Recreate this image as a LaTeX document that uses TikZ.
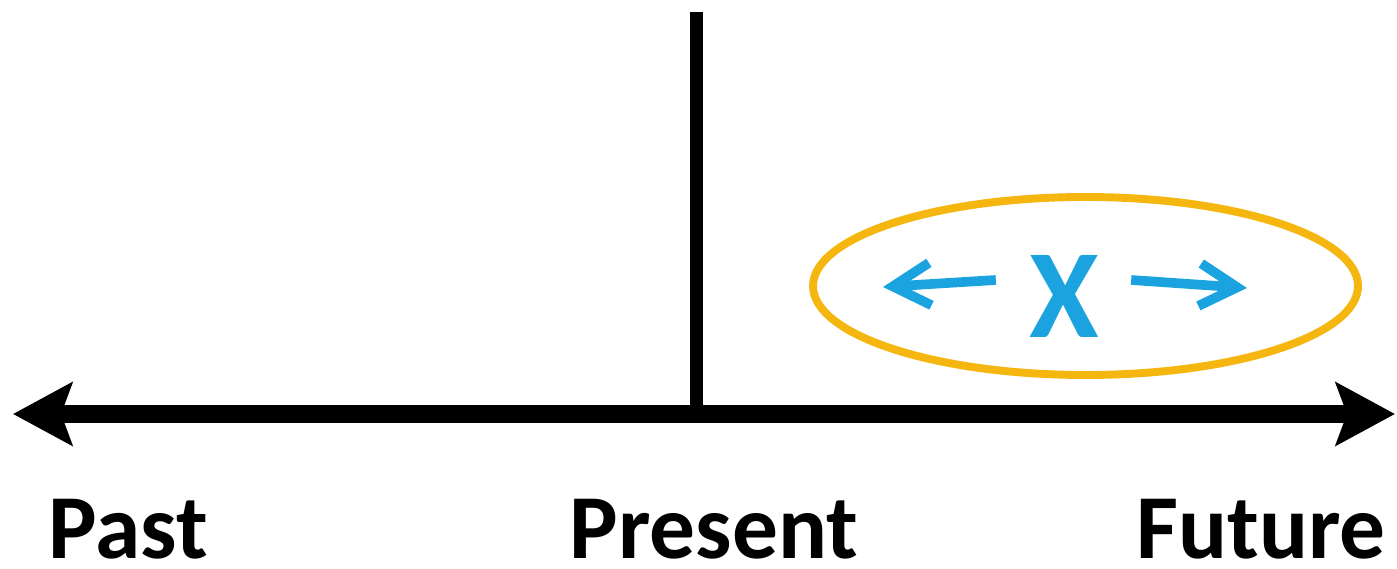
\documentclass[tikz,border=0pt]{standalone}
\usepackage{fontspec}
\setmainfont{Carlito}
\definecolor{TLgold}{HTML}{F4B60F}
\definecolor{TLblue}{HTML}{1BA3E0}
\usetikzlibrary{arrows.meta, shapes.geometric, positioning}

\begin{document}
\begin{tikzpicture}[
      era/.style={anchor=base, inner sep=0pt, font=\fontsize{52}{60}\selectfont\bfseries},
      spread/.style={TLblue, line width=5.5pt, -{Straight Barb[length=0.75cm, width=0.85cm]}}
   ]
      \useasboundingbox (0,0) rectangle (27.94,11.38);
      % Time line
      \coordinate (pastEnd) at (0.26,3.10);
      \coordinate (futureEnd) at (27.90,3.10);
      \coordinate (now) at (13.92,3.10);
      \coordinate (nowTop) at (13.92,11.14);
      \draw[line width=10.5pt, {Stealth[length=1.18cm, width=1.25cm, inset=0.22cm]}-{Stealth[length=1.18cm, width=1.25cm, inset=0.22cm]}]
         (pastEnd) -- (futureEnd);
      % Present marker
      \draw[line width=7.4pt] (now) -- (nowTop);
      % Uncertain window (gold ellipse)
      \node[ellipse, draw=TLgold, line width=4.5pt, minimum width=10.9cm, minimum height=3.56cm]
         (window) at (21.71,5.66) {};
      \node[TLblue, inner sep=0pt, font=\fontsize{72}{80}\selectfont\bfseries]
         (xmark) at (21.28,5.46) {X};
      \coordinate (leftTip) at (17.66,5.64);
      \coordinate (rightTip) at (24.94,5.62);
      \draw[spread] ([xshift=-0.66cm, yshift=0.32cm]xmark.west) -- (leftTip);
      \draw[spread] ([xshift=0.64cm, yshift=0.32cm]xmark.east) -- (rightTip);
      % Labels
      \node[era] (past) at (2.57,0.2) {Past};
      \node[era] (present) at (14.28,0.2) {Present};
      \node[era] (future) at (25.22,0.2) {Future};
\end{tikzpicture}
\end{document}
